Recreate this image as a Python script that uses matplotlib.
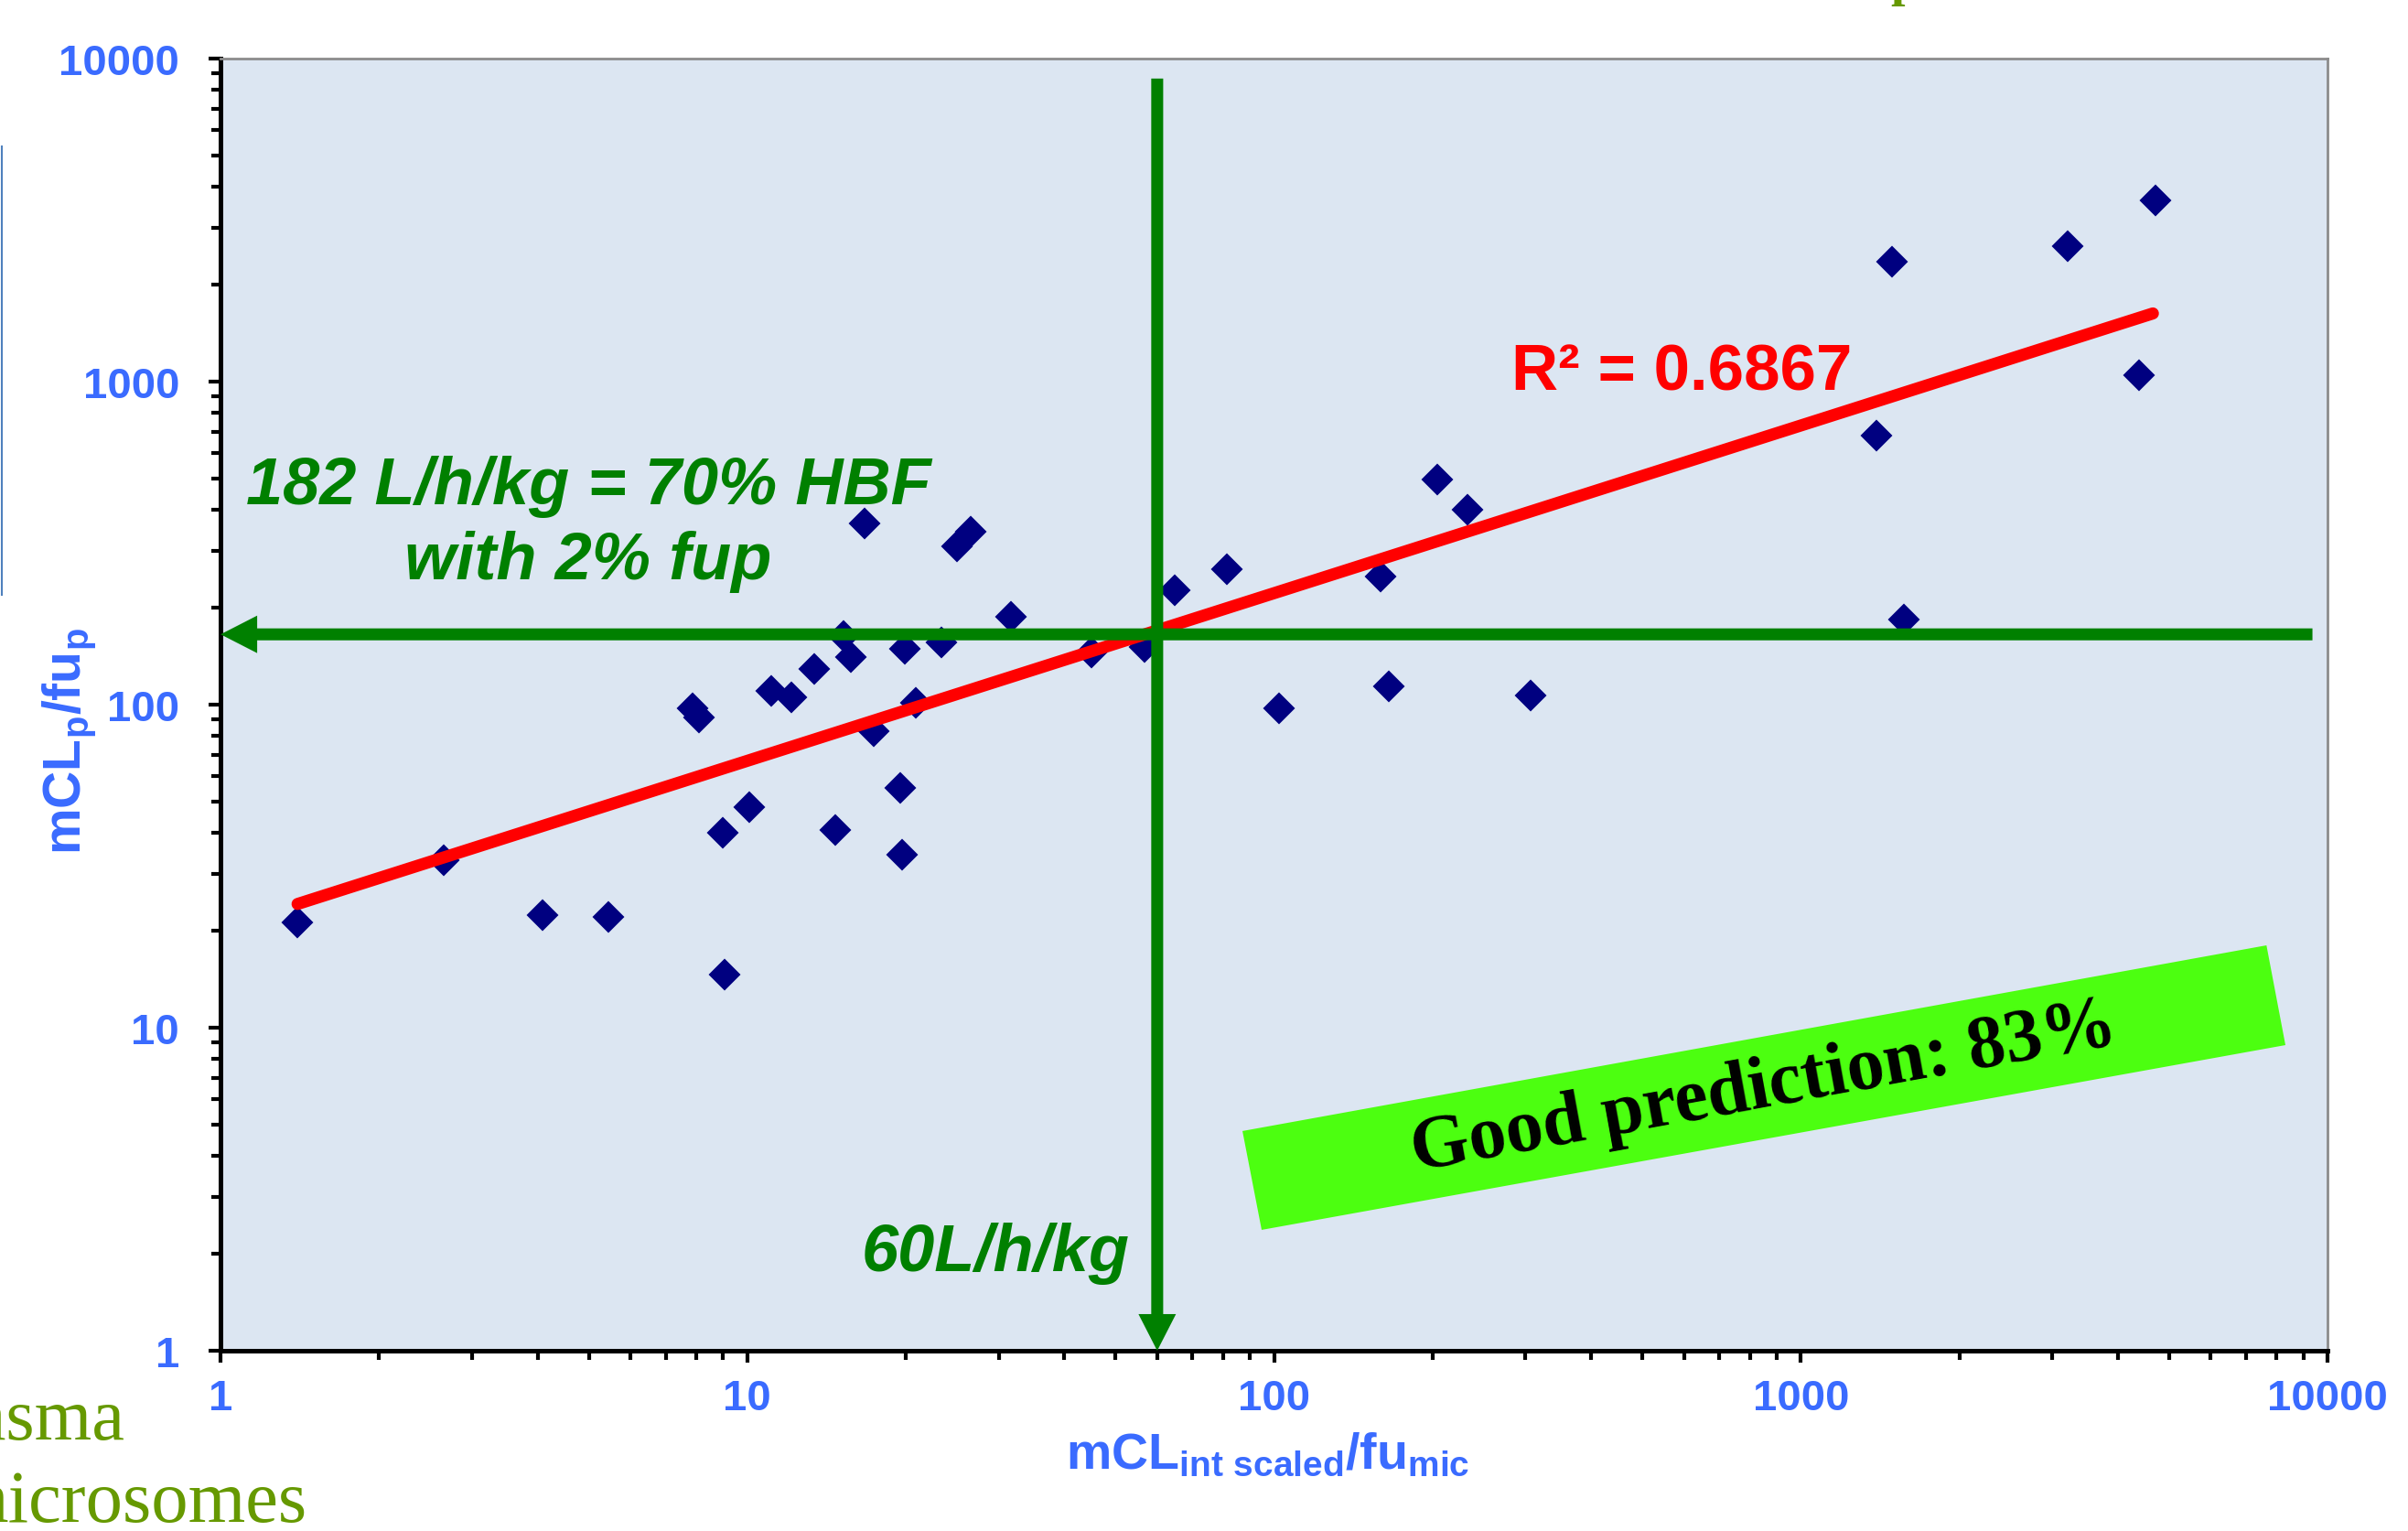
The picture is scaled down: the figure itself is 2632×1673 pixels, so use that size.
import numpy as np
import matplotlib.pyplot as plt
from matplotlib.ticker import LogLocator, NullFormatter
from matplotlib.patches import Polygon
from matplotlib.lines import Line2D

plt.rcParams['font.family'] = ['Liberation Sans', 'DejaVu Sans']
plt.rcParams['font.weight'] = 'bold'
plt.rcParams['mathtext.fontset'] = 'custom'
plt.rcParams['mathtext.rm'] = 'Liberation Sans:bold'
plt.rcParams['mathtext.it'] = 'Liberation Sans:bold'
plt.rcParams['mathtext.bf'] = 'Liberation Sans:bold'

# mCL_int scaled / fu_mic  (x)  vs  mCL_p / fu_p  (y)
cl_int_scaled = [1.40, 2.65, 4.08, 5.44, 7.86, 8.09, 8.99, 9.05, 10.1, 11.1,
                 12.1, 13.4, 14.7, 15.2, 15.7, 16.7, 17.4, 19.5, 19.7, 19.9,
                 20.9, 23.4, 25.0, 26.5, 31.7, 45.0, 56.8, 64.7, 81.4, 102,
                 159, 165, 204, 233, 307, 1392, 1492, 1570, 3212, 4380, 4710]
cl_plasma = [21.1, 33.0, 22.3, 22.0, 97.7, 91.1, 40.2, 14.6, 48.0, 110,
             105, 129, 40.9, 163, 140, 363, 83, 55.4, 34.2, 149,
             101, 156, 310, 344, 187, 145, 151, 226, 262, 97.7,
             249, 114, 497, 400, 107, 681, 2352, 183, 2624, 1047, 3647]

x_ticks = [1, 10, 100, 1000, 10000]
x_tick_labels = ['1', '10', '100', '1000', '10000']
y_ticks = [1, 10, 100, 1000, 10000]
y_tick_labels = ['1', '10', '100', '1000', '10000']

# power trend line (log10 y = intercept + slope * log10 x)
trend_x = [1.40, 4660]
trend_slope = 0.519
trend_intercept = 1.307
r_squared = 0.6867

# cut-off lines
cutoff_x = 60        # 60 L/h/kg
cutoff_y = 165       # 182 L/h/kg line as drawn
line_top_y = 8670
line_right_x = 9360
good_pct = 83

blue = '#3A6BFF'
green = '#008000'
olive = '#669900'

fig = plt.figure(figsize=(26.32, 16.74), dpi=100)
ax = fig.add_axes([0.0916, 0.1177, 0.875, 0.8435])
ax.set_facecolor('#DCE6F2')
ax.set_xscale('log')
ax.set_yscale('log')
ax.set_xlim(1, 10000)
ax.set_ylim(1, 10000)

ax.plot(cl_int_scaled, cl_plasma, linestyle='none', marker='D', markersize=16,
        color='#000080', markeredgewidth=1.5, zorder=2)

tx = np.array(trend_x)
ty = 10 ** (trend_intercept + trend_slope * np.log10(tx))
ax.plot(tx, ty, color='#FF0000', lw=9.5, solid_capstyle='round', zorder=3)

arrow = 'simple,head_length=28.8,head_width=29.5,tail_width=9.4'
ax.annotate('', xy=(1, cutoff_y), xytext=(line_right_x, cutoff_y),
            arrowprops=dict(arrowstyle=arrow, mutation_scale=1, color=green,
                            lw=0, shrinkA=0, shrinkB=0), zorder=4)
ax.annotate('', xy=(cutoff_x, 1), xytext=(cutoff_x, line_top_y),
            arrowprops=dict(arrowstyle=arrow, mutation_scale=1, color=green,
                            lw=0, shrinkA=0, shrinkB=0), zorder=4)

# axes styling
ax.set_xticks(x_ticks)
ax.set_xticklabels(x_tick_labels)
ax.set_yticks(y_ticks)
ax.set_yticklabels(y_tick_labels)
for axis in (ax.xaxis, ax.yaxis):
    axis.set_minor_locator(LogLocator(base=10, subs=range(2, 10)))
    axis.set_minor_formatter(NullFormatter())
ax.tick_params(which='major', length=9.4, width=3, color='black',
               labelsize=34, labelcolor=blue, direction='out')
ax.tick_params(which='minor', length=7.2, width=3, color='black', direction='out')
ax.tick_params(axis='x', which='major', pad=12)
ax.tick_params(axis='y', which='major', pad=23)
for side in ('left', 'bottom'):
    ax.spines[side].set_linewidth(3.6)
    ax.spines[side].set_color('black')
for side in ('top', 'right'):
    ax.spines[side].set_linewidth(2)
    ax.spines[side].set_color('#8C8C8C')

ax.text(0.497, -0.0907, r'$\mathrm{mCL_{int\ scaled}/fu_{mic}}$', transform=ax.transAxes,
        ha='center', va='baseline', fontsize=40, color=blue)
ax.text(-0.072, 0.472, r'$\mathrm{mCL_p/fu_p}$', transform=ax.transAxes,
        ha='center', va='center', rotation=90, fontsize=41, color=blue)

# annotations
ax.text(0.1745, 0.656, '182 L/h/kg = 70% HBF', transform=ax.transAxes,
        ha='center', va='baseline', fontsize=52, style='italic', color=green)
ax.text(0.1745, 0.598, 'with 2% fup', transform=ax.transAxes,
        ha='center', va='baseline', fontsize=52, style='italic', color=green)
ax.text(0.368, 0.0623, f'{cutoff_x}L/h/kg', transform=ax.transAxes,
        ha='center', va='baseline', fontsize=52, style='italic', color=green)
ax.text(0.6935, 0.744, f'R\u00b2 = {r_squared}', transform=ax.transAxes,
        ha='center', va='baseline', fontsize=51, color='#FF0000')

box = Polygon([(0.485, 0.170), (0.971, 0.3137), (0.980, 0.2365), (0.4941, 0.0935)],
              closed=True, transform=ax.transAxes, facecolor='#4CFF10',
              edgecolor='none', zorder=5)
ax.add_patch(box)
ax.text(0.7325, 0.2033, f'Good prediction: {good_pct}%', transform=ax.transAxes,
        ha='center', va='center', rotation=10.3, rotation_mode='anchor',
        fontsize=59, family='Liberation Serif', weight='bold', color='black', zorder=6)

# cropped slide fragments around the chart
fig.add_artist(Line2D([0.0008, 0.0008], [0.904, 0.611], color='#4F81BD', lw=1.5))
fig.text(0.052, 0.0603, 'plasma', ha='right', va='baseline', fontsize=58,
         family='Liberation Serif', weight='normal', color=olive)
fig.text(0.1273, 0.0066, 'microsomes', ha='right', va='baseline', fontsize=58,
         family='Liberation Serif', weight='normal', color=olive)
fig.text(0.791, 1.003, 'p', ha='center', va='baseline', fontsize=40,
         family='Liberation Serif', weight='bold', color=olive)

fig.savefig('out.png', dpi=100)
